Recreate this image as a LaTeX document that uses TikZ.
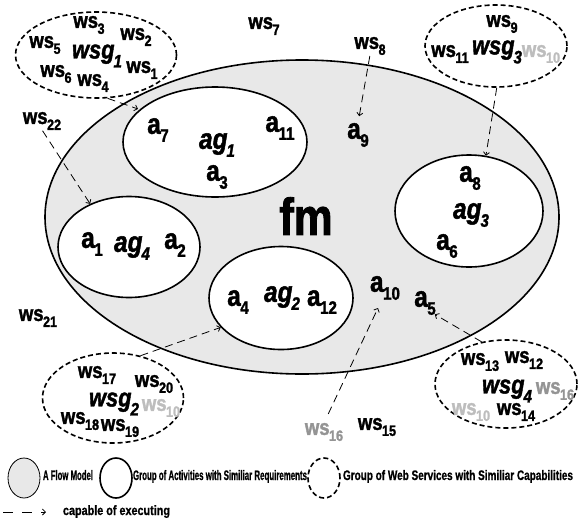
\documentclass[tikz,border=0pt]{standalone}
\usepackage{fontspec}
\setmainfont{Liberation Sans}
\newfontfamily\cfb[FakeStretch=0.84,FakeBold=1.6]{Liberation Sans Bold}
\newfontfamily\cfbi[FakeStretch=0.84,FakeBold=1.6]{Liberation Sans Bold Italic}
\newfontfamily\lgf[FakeStretch=0.8,FakeBold=0.8]{Liberation Sans Bold}
\usetikzlibrary{shapes.geometric,arrows.meta}
\definecolor{fmgray}{gray}{0.91}
\definecolor{lgray}{gray}{0.74}
\definecolor{mgray}{gray}{0.58}
\newcommand{\WSlab}[1]{{\cfb\fontsize{22}{24}\selectfont ws\kern-0.5pt\raisebox{-6pt}{\fontsize{15}{16}\selectfont #1}}}
\newcommand{\Alab}[1]{{\cfb\fontsize{29}{30}\selectfont a\kern-0.5pt\raisebox{-8pt}{\fontsize{18}{20}\selectfont #1}}}
\newcommand{\AGlab}[1]{{\cfbi\fontsize{29}{30}\selectfont ag\kern-1pt\raisebox{-8pt}{\fontsize{18}{20}\selectfont #1}}}
\newcommand{\WSGlab}[1]{{\cfbi\fontsize{26}{27}\selectfont wsg\kern-1pt\raisebox{-9pt}{\fontsize{18}{20}\selectfont #1}}}
\begin{document}
\begin{tikzpicture}[x=1pt,y=-1pt,
  fmshape/.style={ellipse,draw,line width=1.6pt,fill=fmgray,inner sep=0pt},
  agshape/.style={ellipse,draw,line width=1.6pt,fill=white,inner sep=0pt},
  wsgshape/.style={ellipse,draw,line width=1.6pt,dash pattern=on 5pt off 3pt,inner sep=0pt},
  lab/.style={inner sep=0pt,outer sep=0pt},
  capex/.style={line width=0.8pt,dash pattern=on 8pt off 5pt,-{Straight Barb[length=3pt,width=6pt]}},
  lgtext/.style={inner sep=0pt,outer sep=0pt,anchor=base west}]
\useasboundingbox (0,0) rectangle (578,517);
% flow model
\node[fmshape,minimum width=514pt,minimum height=314pt] (fm) at (302,217) {};
% activity groups
\node[agshape,minimum width=184pt,minimum height=110pt] (ag1) at (215,142) {};
\node[agshape,minimum width=142pt,minimum height=101pt] (ag4) at (129,247) {};
\node[agshape,minimum width=144pt,minimum height=103pt] (ag2) at (281,298) {};
\node[agshape,minimum width=148pt,minimum height=112pt] (ag3) at (469,211) {};
% web service groups
\node[wsgshape,minimum width=161pt,minimum height=86pt] (wsg1) at (96,55) {};
\node[wsgshape,minimum width=142pt,minimum height=82pt] (wsg3) at (496,46) {};
\node[wsgshape,minimum width=141pt,minimum height=90pt] (wsg2) at (113,398) {};
\node[wsgshape,minimum width=142pt,minimum height=88pt] (wsg4) at (506,384) {};
% labels
\node[lab] (fmt) at (306,216) {\cfb\fontsize{52}{54}\selectfont fm};
\node[lab] (ws3) at (89,25) {\WSlab{3}};
\node[lab] (ws2) at (136,37) {\WSlab{2}};
\node[lab] (ws5) at (45,45) {\WSlab{5}};
\node[lab] (wsg1t) at (97,56) {\WSGlab{1}};
\node[lab] (ws1) at (142,70) {\WSlab{1}};
\node[lab] (ws6) at (56,74) {\WSlab{6}};
\node[lab] (ws4) at (93,83) {\WSlab{4}};
\node[lab] (ws7) at (264,26) {\WSlab{7}};
\node[lab] (ws8) at (370,46) {\WSlab{8}};
\node[lab] (ws9) at (502,24) {\WSlab{9}};
\node[lab] (ws11) at (450,54) {\WSlab{11}};
\node[lab] (wsg3t) at (497,52) {\WSGlab{3}};
\node[lab,text=lgray] (ws10a) at (541,54) {\WSlab{10}};
\node[lab] (ws22) at (42,121) {\WSlab{22}};
\node[lab] (ws21) at (38,318) {\WSlab{21}};
\node[lab] (a7) at (158,130) {\Alab{7}};
\node[lab] (ag1t) at (217,145) {\AGlab{1}};
\node[lab] (a3) at (217,177) {\Alab{3}};
\node[lab] (a11) at (280,128) {\Alab{11}};
\node[lab] (a9) at (358,135) {\Alab{9}};
\node[lab] (a1) at (92,244) {\Alab{1}};
\node[lab] (ag4t) at (132,248) {\AGlab{4}};
\node[lab] (a2) at (175,245) {\Alab{2}};
\node[lab] (a8) at (470,178) {\Alab{8}};
\node[lab] (ag3t) at (471,215) {\AGlab{3}};
\node[lab] (a6) at (447,246) {\Alab{6}};
\node[lab] (a4) at (238,302) {\Alab{4}};
\node[lab] (ag2t) at (282,298) {\AGlab{2}};
\node[lab] (a12) at (322,302) {\Alab{12}};
\node[lab] (a10) at (385,288) {\Alab{10}};
\node[lab] (a5) at (425,303) {\Alab{5}};
\node[lab] (ws17) at (97,375) {\WSlab{17}};
\node[lab] (ws20) at (154,384) {\WSlab{20}};
\node[lab] (wsg2t) at (114,404) {\WSGlab{2}};
\node[lab,text=lgray] (ws10b) at (161,408) {\WSlab{10}};
\node[lab] (ws18) at (80,421) {\WSlab{18}};
\node[lab] (ws19) at (120,428) {\WSlab{19}};
\node[lab] (ws13) at (480,362) {\WSlab{13}};
\node[lab] (ws12) at (524,360) {\WSlab{12}};
\node[lab] (wsg4t) at (507,391) {\WSGlab{4}};
\node[lab,text=mgray] (ws16a) at (555,391) {\WSlab{16}};
\node[lab,text=lgray] (ws10c) at (471,412) {\WSlab{10}};
\node[lab] (ws14) at (516,412) {\WSlab{14}};
\node[lab,text=mgray] (ws16) at (324,432) {\WSlab{16}};
\node[lab] (ws15) at (377,427) {\WSlab{15}};
% capable-of-executing connectors
\coordinate (t1) at (138,109);
\coordinate (t7) at (378,308);
\draw[capex] (wsg1.-75) -- (t1);
\draw[capex] (wsg3.-89) -- (ag3.73);
\draw[capex,shorten <=1pt,shorten >=7pt] (ws8.south) -- (a9.north);
\draw[capex,shorten <=1pt] (ws22.south) -- (ag4.132);
\draw[capex] (wsg2.57) -- (ag2.206);
\draw[capex,shorten >=-1pt] (wsg4.120) -- (a5.south east);
\draw[capex,shorten <=10pt] (ws16.north) -- (t7);
% legend
\node[ellipse,draw,line width=0.8pt,fill=fmgray,minimum width=32pt,minimum height=40pt,inner sep=0pt] (lg1) at (24,478) {};
\node[lgtext] (lg1t) at (43,480) {\resizebox{50pt}{10pt}{\lgf A Flow Model}};
\node[ellipse,draw,line width=1.6pt,minimum width=32pt,minimum height=40pt,inner sep=0pt] (lg2) at (116,478) {};
\node[lgtext] (lg2t) at (133,480) {\resizebox{174pt}{10pt}{\lgf Group of Activities with Similiar Requirements}};
\node[ellipse,draw,line width=1.6pt,dash pattern=on 5pt off 3pt,minimum width=32pt,minimum height=40pt,inner sep=0pt] (lg3) at (324,478) {};
\node[lgtext] (lg3t) at (343,480) {\resizebox{230pt}{10pt}{\lgf Group of Web Services with Similiar Capabilities}};
\coordinate (la1) at (3,512);
\coordinate (la2) at (46,512);
\draw[line width=0.8pt,dash pattern=on 10pt off 9pt,-{Straight Barb[length=3pt,width=6pt]}] (la1) -- (la2);
\node[lgtext] (lat) at (63,515) {\resizebox{107pt}{!}{\lgf capable of executing}};
\end{tikzpicture}
\end{document}
